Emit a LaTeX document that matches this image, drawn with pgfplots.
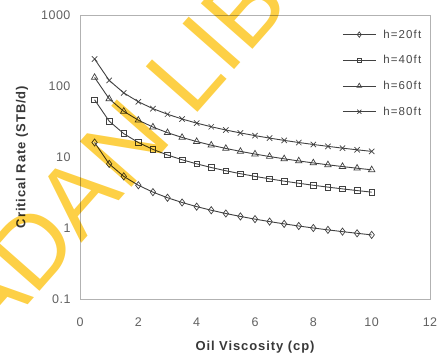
\documentclass[border=0pt]{standalone}
\usepackage{fontspec}
\setmainfont{Liberation Sans}
\newfontfamily\labfont[LetterSpace=7]{Liberation Sans}
\newfontfamily\tickfont[LetterSpace=4]{Liberation Sans}
\newfontfamily\legfont[LetterSpace=10]{Liberation Sans}
\usepackage{pgfplots}
\pgfplotsset{compat=1.18}
\usetikzlibrary{calc}
\definecolor{wm}{RGB}{253,208,70}
\definecolor{ln}{RGB}{65,65,65}
\begin{document}
\begin{tikzpicture}
\begin{axis}[name=ax, scale only axis, width=350pt, height=284pt,
  ymode=log, xmin=0, xmax=12, ymin=0.1, ymax=1000,
  xtick={0,2,4,6,8,10,12},
  ytick={0.1,1,10,100,1000}, yticklabels={0.1,1,10,100,1000},
  yminorticks=false, major tick length=0pt,
  axis line style={draw=black!30, line width=0.8pt},
  /pgf/number format/assume math mode=true,
  tick label style={font=\tickfont\fontsize{12.5}{14}\selectfont, text=black!62},
  xticklabel style={yshift=-15pt},
  yticklabel style={xshift=-6pt},
  every axis x label/.style={at={(axis description cs:0.5,-0.169)}, anchor=center},
  every axis y label/.style={at={(axis description cs:-0.166,0.5)}, rotate=90, anchor=center},
  label style={font=\labfont\bfseries\fontsize{13}{15}\selectfont, text=black!78},
  xlabel={Oil Viscosity (cp)},
  ylabel={Critical Rate (STB/d)},
  legend style={at={(axis description cs:0.749,0.951)}, anchor=north west, draw=none, fill=none,
    inner sep=0pt, font=\legfont\fontsize{11.5}{13}\selectfont, text=black!72,
    nodes={inner sep=0pt, text height=9pt, text depth=2pt}, row sep=14.7pt},
  legend cell align=left,
  /tikz/every odd column/.append style={column sep=7pt},
  legend image code/.code={\draw[mark repeat=2,mark phase=2,every mark/.append style={scale=0.75}] plot coordinates {(0pt,0pt)(16.5pt,0pt)(33pt,0pt)};},
  every axis plot/.append style={color=ln, line width=0.9pt, mark options={solid, line width=0.7pt}},
]
\addplot[mark=diamond, mark size=3.6pt] coordinates {
(0.5,16)(1,8)(1.5,5.333)(2,4)(2.5,3.2)(3,2.667)(3.5,2.286)(4,2)(4.5,1.778)(5,1.6)
(5.5,1.455)(6,1.333)(6.5,1.231)(7,1.143)(7.5,1.067)(8,1)(8.5,0.941)(9,0.889)(9.5,0.842)(10,0.8)};
\addlegendentry{h=20ft}
\addplot[mark=square, mark size=2.8pt] coordinates {
(0.5,64)(1,32)(1.5,21.33)(2,16)(2.5,12.8)(3,10.67)(3.5,9.143)(4,8)(4.5,7.111)(5,6.4)
(5.5,5.818)(6,5.333)(6.5,4.923)(7,4.571)(7.5,4.267)(8,4)(8.5,3.765)(9,3.556)(9.5,3.368)(10,3.2)};
\addlegendentry{h=40ft}
\addplot[mark=triangle, mark size=3.7pt] coordinates {
(0.5,132)(1,66)(1.5,44)(2,33)(2.5,26.4)(3,22)(3.5,18.86)(4,16.5)(4.5,14.67)(5,13.2)
(5.5,12)(6,11)(6.5,10.15)(7,9.429)(7.5,8.8)(8,8.25)(8.5,7.765)(9,7.333)(9.5,6.947)(10,6.6)};
\addlegendentry{h=60ft}
\addplot[mark=x, mark size=3.8pt] coordinates {
(0.5,240)(1,120)(1.5,80)(2,60)(2.5,48)(3,40)(3.5,34.29)(4,30)(4.5,26.67)(5,24)
(5.5,21.82)(6,20)(6.5,18.46)(7,17.14)(7.5,16)(8,15)(8.5,14.12)(9,13.33)(9.5,12.63)(10,12)};
\addlegendentry{h=80ft}
\end{axis}
\begin{scope}[blend mode=multiply]
\node[rotate=48.6, inner sep=0pt, text=wm, font=\fontsize{100}{100}\selectfont] at ($(ax.south west)+(35pt,145pt)$) {ADAN LIB};
\end{scope}
\pgfresetboundingbox
\path[use as bounding box] ($(ax.south west)+(-80pt,-62pt)$) rectangle ($(ax.north east)+(8pt,15pt)$);
\end{tikzpicture}
\end{document}
